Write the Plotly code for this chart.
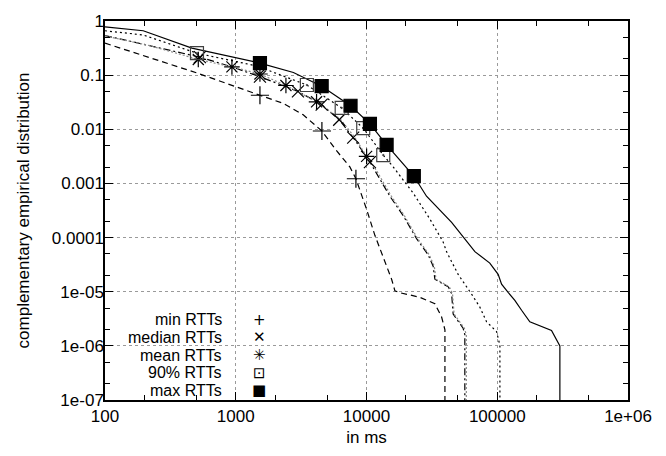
import plotly.graph_objects as go

# ---------------- data ----------------
min_x = [100, 503, 1531, 2307, 3280, 4560, 5900, 7460, 8300, 10020, 11590, 13430, 15560,
         16490, 17990, 25580, 33340, 37500, 39800, 39800]
min_y = [0.39, 0.11, 0.0425, 0.0301, 0.0185, 0.0093, 0.00402, 0.00202, 0.00122, 3.32e-4,
         1.1e-4, 4.16e-5, 1.7e-5, 1.04e-5, 9.6e-6, 7.9e-6, 6.0e-6, 3.44e-6, 1.98e-6, 1e-7]

med_x = [100, 221, 532, 935, 1531, 2990, 4540, 6180, 7910, 10620, 11590, 15100, 19100,
         24150, 29650, 32360, 33340, 42200, 44770, 46000, 54800, 56500, 56500]
med_y = [0.54, 0.354, 0.215, 0.142, 0.0936, 0.0502, 0.0286, 0.015, 0.00703, 0.00248,
         0.00175, 5.8e-4, 2.53e-4, 9.55e-5, 4.79e-5, 2.95e-5, 1.7e-5, 1.23e-5, 9.2e-6,
         3.85e-6, 2.12e-6, 1.61e-6, 1e-7]

mean_x = [100, 221, 517, 935, 1531, 2420, 4150, 6300, 8100, 10020, 11900, 15500, 19500,
          24600, 30200, 33000, 34000, 43000, 45500, 46800, 56000, 58000, 58000]
mean_y = [0.53, 0.35, 0.195, 0.142, 0.105, 0.0644, 0.0322, 0.0155, 0.0072, 0.00316,
          0.00175, 5.8e-4, 2.53e-4, 9.55e-5, 4.79e-5, 2.95e-5, 1.7e-5, 1.23e-5, 9.2e-6,
          3.85e-6, 2.12e-6, 1.61e-6, 1e-7]

p90_x = [100, 196, 505, 1445, 3500, 6460, 9440, 13430, 16000, 22740, 30560, 38550, 40930,
         50200, 63500, 73600, 82800, 98800, 104800, 104800]
p90_y = [0.66, 0.552, 0.254, 0.148, 0.0657, 0.0248, 0.01047, 0.00334, 0.00202, 6.65e-4,
         2.19e-4, 8.3e-5, 5.5e-5, 2.09e-5, 9.1e-6, 5.2e-6, 2.79e-6, 1.84e-6, 1.02e-6, 1e-7]

max_x = [100, 196, 462, 1531, 2760, 4540, 7550, 10620, 14250, 23000, 28770, 44770, 67450,
         87700, 101600, 107900, 121100, 136300, 153500, 177500, 260000, 301300, 301300]
max_y = [0.78, 0.66, 0.316, 0.167, 0.112, 0.0625, 0.0272, 0.01257, 0.00516, 0.00137,
         5.8e-4, 1.91e-4, 5.5e-5, 3.38e-5, 2.09e-5, 1.38e-5, 9.7e-6, 6.9e-6, 4.54e-6,
         2.79e-6, 1.92e-6, 1e-6, 1e-7]

# marker positions
min_mx = [1531, 4560, 8300]
min_my = [0.0425, 0.0093, 0.00122]
med_mx = [532, 1531, 2990, 4540, 6180, 7910, 10620]
med_my = [0.215, 0.0936, 0.0502, 0.0286, 0.015, 0.00703, 0.00248]
mean_mx = [517, 935, 1531, 2420, 4150, 10020]
mean_my = [0.195, 0.142, 0.105, 0.0644, 0.0322, 0.00316]
p90_mx = [505, 3500, 6460, 9440, 13430]
p90_my = [0.254, 0.0657, 0.0248, 0.01047, 0.00334]
max_mx = [1531, 4540, 7550, 10620, 14250, 23000]
max_my = [0.167, 0.0625, 0.0272, 0.01257, 0.00516, 0.00137]

series_names = ["min RTTs", "median RTTs", "mean RTTs", "90% RTTs", "max RTTs"]
legend_glyphs = ["+", "\u2715", "\u2733\ufe0e", "\u22a1", "\u25a0"]

x_tickvals = [100, 1000, 10000, 100000, 1000000]
x_ticktext = ["100", "1000", "10000", "100000", "1e+06"]
y_tickvals = [1, 0.1, 0.01, 0.001, 0.0001, 1e-5, 1e-6, 1e-7]
y_ticktext = ["1", "0.1", "0.01", "0.001", "0.0001", "1e-05", "1e-06", "1e-07"]
x_minor = [200, 500, 2000, 5000, 20000, 50000, 200000, 500000]
y_minor = [0.5, 0.2, 0.05, 0.02, 0.005, 0.002, 5e-4, 2e-4, 5e-5, 2e-5, 5e-6, 2e-6, 5e-7, 2e-7]

FONT = "Liberation Sans, Arial, Helvetica, sans-serif"
FS = 17

fig = go.Figure()

lines = [
    (min_x, min_y, "black", "6px,4px"),
    (med_x, med_y, "black", "7px,3px,2px,3px"),
    (mean_x, mean_y, "#8a8a8a", "2px,2px"),
    (p90_x, p90_y, "black", "2px,3px"),
    (max_x, max_y, "black", "solid"),
]
for (xs, ys, col, dash), nm in zip(lines, series_names):
    fig.add_trace(go.Scatter(x=xs, y=ys, mode="lines", name=nm, showlegend=False,
                             line=dict(color=col, width=1.2, dash=dash), cliponaxis=True))

markers = [
    (min_mx, min_my, "cross-thin-open", 13, "black"),
    (med_mx, med_my, "x-thin-open", 12, "black"),
    (mean_mx, mean_my, "asterisk-open", 13, "black"),
    (p90_mx, p90_my, "square-open-dot", 13, "#404040"),
    (max_mx, max_my, "square", 13, "black"),
]
for (xs, ys, sym, sz, col), nm in zip(markers, series_names):
    fig.add_trace(go.Scatter(x=xs, y=ys, mode="markers", name=nm, showlegend=False,
                             marker=dict(symbol=sym, size=sz, color=col,
                                         line=dict(color=col, width=1.2))))

# invisible copy on the overlay axes so that the minor-tick axes get drawn
fig.add_trace(go.Scatter(x=max_x, y=max_y, xaxis="x2", yaxis="y2", mode="lines",
                         line=dict(width=0, color="rgba(0,0,0,0)"), hoverinfo="skip",
                         showlegend=False))

# legend drawn as text, gnuplot style (label right-aligned, key on its right)
row_px = [320, 338, 356, 374, 392]
row_y = [(402 - p) / 388 for p in row_px]
annotations = []
for nm, g, yy in zip(series_names, legend_glyphs, row_y):
    annotations.append(dict(xref="paper", yref="paper", x=0.2262, y=yy, text=nm,
                            showarrow=False, xanchor="right", yanchor="middle", borderpad=0,
                            font=dict(family=FONT, size=16, color="black")))
    annotations.append(dict(xref="paper", yref="paper", x=0.2945, y=yy, text=g,
                            showarrow=False, xanchor="center", yanchor="middle", borderpad=0,
                            font=dict(family="DejaVu Sans", size=15, color="black")))

axis_common = dict(
    type="log", showline=True, linecolor="black", linewidth=1.5, mirror="allticks",
    ticks="inside", ticklen=8, tickwidth=1.2, tickcolor="black",
    showgrid=True, gridcolor="#9a9a9a", gridwidth=1, griddash="dot",
    zeroline=False, tickfont=dict(family=FONT, size=FS, color="black"),
)
minor_common = dict(
    type="log", showline=True, linecolor="black", linewidth=1.5, mirror="ticks",
    ticks="inside", ticklen=5, tickwidth=1.2, tickcolor="black", showgrid=False,
    zeroline=False, showticklabels=False, tickmode="array",
)

fig.update_layout(
    width=666, height=456,
    margin=dict(l=105, r=38, t=14, b=54),
    paper_bgcolor="white", plot_bgcolor="white",
    showlegend=False,
    font=dict(family=FONT, size=FS, color="black"),
    xaxis=dict(axis_common, range=[2, 6], tickmode="array", tickvals=x_tickvals,
               ticktext=x_ticktext,
               title=dict(text="in ms", standoff=6, font=dict(family=FONT, size=FS))),
    yaxis=dict(axis_common, range=[-7, 0], tickmode="array", tickvals=y_tickvals,
               ticktext=y_ticktext, ticklabelstandoff=-4,
               title=dict(text="complementary empirical distribution", standoff=18,
                          font=dict(family=FONT, size=FS))),
    xaxis2=dict(minor_common, range=[2, 6], tickvals=x_minor, overlaying="x",
                anchor="y", side="bottom"),
    yaxis2=dict(minor_common, range=[-7, 0], tickvals=y_minor, overlaying="y",
                anchor="x", side="left"),
    annotations=annotations,
    shapes=[dict(type="rect", xref="paper", yref="paper", x0=0, x1=0.3576, y0=0, y1=0.258,
                 fillcolor="white", line=dict(width=0), layer="between")],
)

fig.write_html("out.html")
